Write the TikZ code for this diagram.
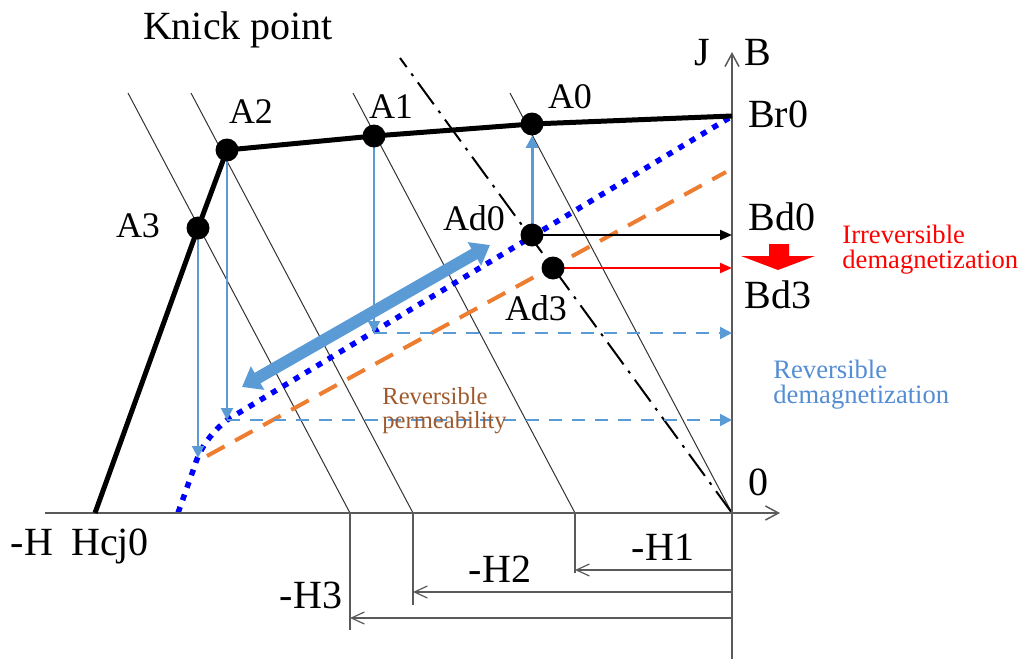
\documentclass[tikz,border=0pt]{standalone}
\usepackage{fontspec}
\setmainfont{Liberation Serif}
\usepackage{tikz}
\usetikzlibrary{calc}
\usetikzlibrary{positioning}
\usetikzlibrary{arrows.meta}
\usepackage{xcolor}
\definecolor{lblue}{RGB}{91,155,213}
\definecolor{dblue}{RGB}{0,0,255}
\definecolor{orng}{RGB}{237,125,49}
\definecolor{brwn}{RGB}{158,90,45}
\definecolor{txtblue}{RGB}{84,141,212}
\definecolor{axgray}{RGB}{90,90,90}
\pgfdeclarelayer{bg}
\pgfsetlayers{bg,main}

\begin{document}
\begin{tikzpicture}[x=0.5pt, y=-0.5pt,
		pnt/.style = {circle, fill=black, inner sep=0pt, minimum size=11.5pt},
		big/.style = {font=\fontsize{20}{22}\selectfont, inner sep=0pt, anchor=base},
		lab/.style = {font=\fontsize{18}{20}\selectfont, inner sep=0pt, anchor=base},
		note/.style = {font=\fontsize{13.3}{12.5}\selectfont, inner sep=0pt, anchor=west, align=left},
		axline/.style = {draw=axgray, line width=0.75pt, -{Straight Barb[length=6.5pt, width=7pt]}},
		loadln/.style = {draw=black!80, line width=0.5pt},
		dimln/.style = {draw=axgray, line width=0.6pt},
		dimarr/.style = {dimln, -{Straight Barb[length=6.5pt, width=6pt]}},
		drop/.style = {draw=lblue, line width=1pt, -{Triangle[length=6pt, width=6pt]}},
		rev/.style = {draw=lblue, line width=1pt, dash pattern=on 6.5pt off 5pt, -{Triangle[length=6pt, width=6pt]}},
		bd/.style = {line width=1pt, -{Triangle[length=6pt, width=5pt]}}
		]
		\useasboundingbox (0,0) rectangle (1025,659);
		
		%Coordinates
		\coordinate	(O)		at	(732,513);
		\coordinate	(Br0)	at	(732,116);
		\coordinate	(Hc)	at	(95,513);
		\coordinate	(h1)	at	(575,513);
		\coordinate	(h2)	at	(413,513);
		\coordinate	(h3)	at	(350,513);
		\coordinate	(r1)	at	(374,333);
		\coordinate	(r2)	at	(227,420);
		\coordinate	(r3)	at	(198,458);
		
		%Nodes
		\node[pnt]	(A3)	at	(198,228)	{};
		\node[pnt]	(A2)	at	(227,150)	{};
		\node[pnt]	(A1)	at	(374,136)	{};
		\node[pnt]	(A0)	at	(532,124)	{};
		\node[pnt]	(Ad0)	at	(532,235)	{};
		\node[pnt]	(Ad3)	at	(553,268)	{};
		
		\begin{pgfonlayer}{bg}
		%Load lines
		\draw[loadln]	(h3)	--	++(-222,-420);
		\draw[loadln]	(h2)	--	++(-222,-420);
		\draw[loadln]	(h1)	--	++(-222,-420);
		\draw[loadln]	(O)		--	++(-222,-420);
		\draw[line width=1pt, dash pattern=on 13.5pt off 4pt on 1.5pt off 4pt]	(O) -- (400,58);
		
		%Recoil lines
		\draw[orng, line width=2pt, dash pattern=on 10pt off 6pt]	(207,456) -- (726,172);
		\draw[dblue, line width=2.75pt, dash pattern=on 3pt off 3.6pt]	(729,118) -- (r2) .. controls (212,432) and (200,448) .. (195,465) -- (178,513);
		
		%Axes
		\draw[axline]	(45,513)	--	(780,513);
		\draw[axline]	(732,659)	--	(732,52);
		
		%Curve
		\draw[line width=2.5pt, line join=round]	(Hc) -- (A3.center) -- (A2.center) -- (A1.center) -- (A0.center) -- (Br0);
		
		%Arrows
		\draw[drop]	(A3.center)	--	(r3);
		\draw[drop]	(A2.center)	--	(r2);
		\draw[drop]	(A1.center)	--	(r1);
		\draw[lblue, line width=1.5pt, -{Triangle[length=6pt, width=6pt]}]	(Ad0.center)	--	(A0.south);
		\draw[rev]	(r1)	--	(r1 -| O);
		\draw[rev]	(r2)	--	(r2 -| O);
		\draw[lblue, line width=6pt, {Triangle[length=9pt, width=13pt]}-{Triangle[length=9pt, width=13pt]}]	(242,387) -- (490,245);
		\draw[bd, black]	(Ad0.center)	--	(Ad0 -| O);
		\draw[bd, red]	(Ad3.center)	--	(Ad3 -| O);
		\fill[red]	(769,244) -- (789,244) -- (789,256) -- (815,256) -- (778,270) -- (741,256) -- (769,256) -- cycle;
		
		%Dimensions
		\draw[dimln]	(h1)	--	++(0,60);
		\draw[dimln]	(h2)	--	++(0,92);
		\draw[dimln]	(h3)	--	++(0,117);
		\draw[dimarr]	(732,570)	--	(575,570);
		\draw[dimarr]	(732,592)	--	(413,592);
		\draw[dimarr]	(732,618)	--	(350,618);
		\end{pgfonlayer}
		
		%Labels
		\node[big]	(knick)	at	(238,39)	{Knick point};
		\node[big]	(J)		at	(702,65)	{J};
		\node[big]	(B)		at	(758,65)	{B};
		\node[big]	(lBr0)	at	(778,127)	{Br0};
		\node[big]	(lBd0)	at	(782,230)	{Bd0};
		\node[big]	(lBd3)	at	(778,308)	{Bd3};
		\node[big]	(zero)	at	(758,495)	{0};
		\node[big]	(mH)	at	(32,555)	{-H};
		\node[big]	(lHc)	at	(110,555)	{Hcj0};
		\node[big]	(lH1)	at	(663,560)	{-H1};
		\node[big]	(lH2)	at	(500,582)	{-H2};
		\node[big]	(lH3)	at	(311,608)	{-H3};
		\node[lab]	(lA3)	at	(138,237)	{A3};
		\node[lab]	(lA2)	at	(251,123)	{A2};
		\node[lab]	(lA1)	at	(391,118)	{A1};
		\node[lab]	(lA0)	at	(570,108)	{A0};
		\node[lab]	(lAd0)	at	(474,230)	{Ad0};
		\node[lab]	(lAd3)	at	(536,320)	{Ad3};
		\node[note, text=red]	(irr)	at	(842,250)	{Irreversible\\demagnetization};
		\node[note, text=txtblue]	(revd)	at	(773,385)	{Reversible\\demagnetization};
		\node[note, text=brwn, font=\fontsize{12.3}{12}\selectfont]	(revp)	at	(382,411)	{Reversible\\permeability};
	\end{tikzpicture}
\end{document}
